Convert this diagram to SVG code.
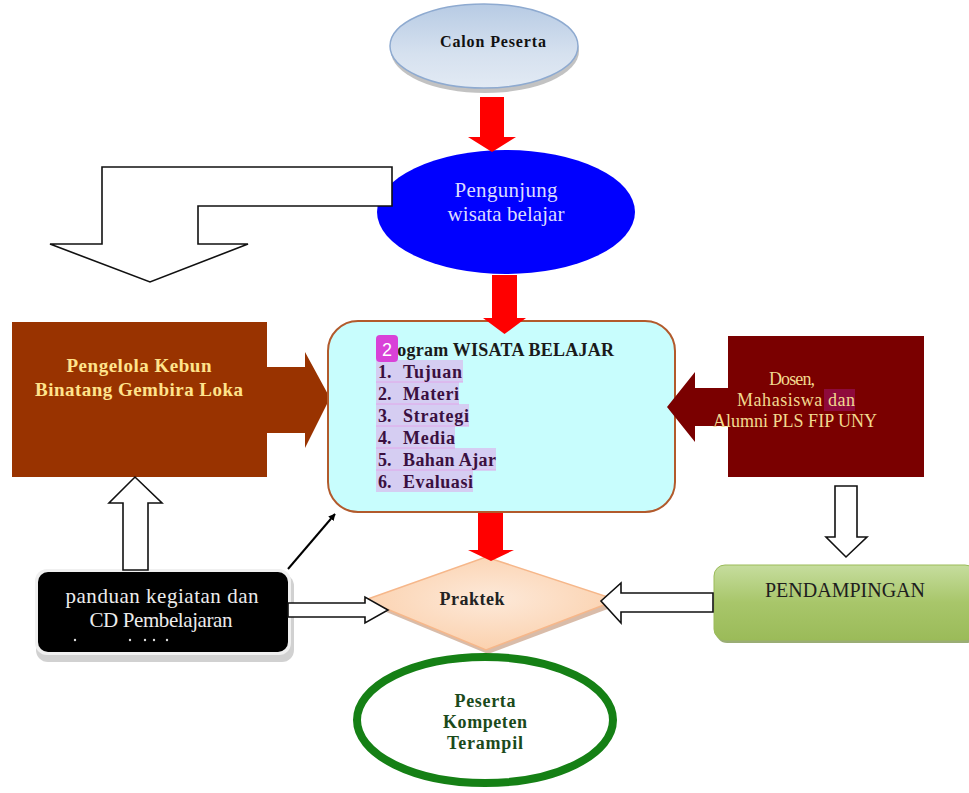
<svg xmlns="http://www.w3.org/2000/svg" width="969" height="793" viewBox="0 0 969 793">
<defs>
<linearGradient id="gCalon" x1="0" y1="0" x2="0" y2="1">
<stop offset="0" stop-color="#b7cbe4"/><stop offset="0.6" stop-color="#d6e1ef"/><stop offset="1" stop-color="#e2eaf4"/>
</linearGradient>
<linearGradient id="gGreen" x1="0" y1="0" x2="0" y2="1">
<stop offset="0" stop-color="#c6dd9e"/><stop offset="0.5" stop-color="#a8c66a"/><stop offset="1" stop-color="#9bbb59"/>
</linearGradient>
<radialGradient id="gPeach" cx="0.5" cy="0.45" r="0.6">
<stop offset="0" stop-color="#fde9d9"/><stop offset="1" stop-color="#fbcfaa"/>
</radialGradient>
<marker id="ah" viewBox="0 0 10 10" refX="9" refY="5" markerWidth="7" markerHeight="7" orient="auto" markerUnits="userSpaceOnUse">
<path d="M0,0 L10,5 L0,10 z" fill="#000"/>
</marker>
<style>
.serif{font-family:"Liberation Serif","Times New Roman",serif}
.b{font-weight:bold}
.hollow{fill:#fff;stroke:#111;stroke-width:1.6;stroke-linejoin:miter}
.red{fill:#ff0000}
.item{font-family:"Liberation Serif",serif;font-weight:bold;font-size:18px;fill:#3a1040}
.hl{fill:#d5cdf2}
.sep{stroke:#e2a6ea;stroke-width:1}
</style>
</defs>
<rect width="969" height="793" fill="#fff"/>

<g id="calon-peserta">
<ellipse cx="485" cy="51" rx="94" ry="42" fill="#9a9a9a" opacity="0.6"/>
<ellipse cx="484" cy="46" rx="94" ry="42" fill="url(#gCalon)" stroke="#8eaad0" stroke-width="1.5"/>
<text class="serif b" x="493" y="47" font-size="16" text-anchor="middle" fill="#111" textLength="106">Calon Peserta</text>
</g>

<g id="pengunjung">
<ellipse cx="506" cy="212" rx="129" ry="62" fill="#0000ff"/>
<text class="serif" x="506" y="197" font-size="21" text-anchor="middle" fill="#dcdcff" textLength="103">Pengunjung</text>
<text class="serif" x="506" y="221" font-size="21" text-anchor="middle" fill="#dcdcff" textLength="117">wisata belajar</text>
</g>

<g id="pengelola">
<rect x="12" y="322" width="255" height="155" fill="#993300"/>
<polygon points="266,367 305,367 305,352 330,398 305,448 305,433 266,433" fill="#993300"/>
<text class="serif b" x="139" y="372" font-size="19" text-anchor="middle" fill="#ffe38c" textLength="145">Pengelola Kebun</text>
<text class="serif b" x="139" y="396" font-size="19" text-anchor="middle" fill="#ffe38c" textLength="208">Binatang Gembira Loka</text>
</g>

<g id="program">
<rect x="328" y="321" width="347" height="191" rx="30" ry="30" fill="#c8fdfd" stroke="#b25a2c" stroke-width="2"/>
<rect class="hl" x="376" y="360" width="87" height="22"/>
<rect class="hl" x="376" y="382" width="83" height="22"/>
<rect class="hl" x="376" y="404" width="93" height="22"/>
<rect class="hl" x="376" y="426" width="79" height="22"/>
<rect class="hl" x="376" y="448" width="120" height="22"/>
<rect class="hl" x="376" y="470" width="97" height="22"/>
<line class="sep" x1="376" y1="382" x2="463" y2="382"/>
<line class="sep" x1="376" y1="404" x2="459" y2="404"/>
<line class="sep" x1="376" y1="426" x2="469" y2="426"/>
<line class="sep" x1="376" y1="448" x2="455" y2="448"/>
<line class="sep" x1="376" y1="470" x2="496" y2="470"/>
<text class="serif b" x="378" y="356" font-size="18" fill="#1a1a1a" textLength="236">Program WISATA BELAJAR</text>
<text class="item" x="378" y="378">1.</text><text class="item" x="403" y="378" textLength="59">Tujuan</text>
<text class="item" x="378" y="400">2.</text><text class="item" x="403" y="400" textLength="56">Materi</text>
<text class="item" x="378" y="422">3.</text><text class="item" x="403" y="422" textLength="66">Strategi</text>
<text class="item" x="378" y="444">4.</text><text class="item" x="403" y="444" textLength="52">Media</text>
<text class="item" x="378" y="466">5.</text><text class="item" x="403" y="466" textLength="93">Bahan Ajar</text>
<text class="item" x="378" y="488">6.</text><text class="item" x="403" y="488" textLength="70">Evaluasi</text>
<rect x="376" y="335" width="22" height="27" rx="4" fill="#d842d8"/>
<text x="387" y="356" font-family="Liberation Sans,Arial,sans-serif" font-size="18" text-anchor="middle" fill="#fff">2</text>
</g>

<g id="dosen">
<rect x="728" y="336" width="196" height="141" fill="#7a0000"/>
<polygon points="729,388 695,388 695,372 667,407 695,442 695,426 729,426" fill="#7a0000"/>
<rect x="824" y="389" width="31" height="22" fill="#8e0a3c"/>
<text class="serif" x="792" y="385" font-size="18" text-anchor="middle" fill="#f2d98f" textLength="46">Dosen,</text>
<text class="serif" x="796" y="406" font-size="18" text-anchor="middle" fill="#f2d98f" textLength="118">Mahasiswa dan</text>
<text class="serif" x="795" y="427" font-size="18" text-anchor="middle" fill="#f2d98f" textLength="164">Alumni PLS FIP UNY</text>
</g>

<g id="pendampingan">
<rect x="716" y="568" width="262" height="75" rx="11" fill="#6f8a3a" opacity="0.7"/>
<rect x="714" y="565" width="262" height="75" rx="11" fill="url(#gGreen)" stroke="#9bbb59" stroke-width="1"/>
<text class="serif" x="845" y="597" font-size="20" text-anchor="middle" fill="#1e1e1e" textLength="160">PENDAMPINGAN</text>
</g>

<g id="panduan">
<rect x="36" y="574" width="258" height="88" rx="12" fill="#bdbdbd" opacity="0.7"/>
<rect x="35" y="569" width="256" height="86" rx="12" fill="#f0f0f0"/>
<rect x="38" y="572" width="250" height="80" rx="10" fill="#000"/>
<text class="serif" x="162" y="603" font-size="21" text-anchor="middle" fill="#ececec" textLength="193">panduan kegiatan dan</text>
<text class="serif" x="161" y="627" font-size="21" text-anchor="middle" fill="#ececec" textLength="143">CD Pembelajaran</text>
<g fill="#ddd"><circle cx="75" cy="640" r="1.2"/><circle cx="130" cy="640" r="1.2"/><circle cx="145" cy="640" r="1.2"/><circle cx="154" cy="640" r="1.2"/><circle cx="167" cy="640" r="1.2"/></g>
</g>

<g id="praktek">
<polygon points="367,604 488,561 621,604 488,654" fill="#c09070" opacity="0.6"/>
<polygon points="365,600 486,557 617,600 486,650" fill="url(#gPeach)" stroke="#f6b78a" stroke-width="1.5"/>
<text class="serif b" x="472" y="605" font-size="18" text-anchor="middle" fill="#222" textLength="65">Praktek</text>
</g>

<g id="peserta-kompeten">
<ellipse cx="485" cy="720" rx="128" ry="63" fill="#fff" stroke="#158015" stroke-width="8"/>
<text class="serif b" x="485" y="707" font-size="18" text-anchor="middle" fill="#1b4a1b" textLength="61">Peserta</text>
<text class="serif b" x="485" y="728" font-size="18" text-anchor="middle" fill="#1b4a1b" textLength="84">Kompeten</text>
<text class="serif b" x="485" y="749" font-size="18" text-anchor="middle" fill="#1b4a1b" textLength="76">Terampil</text>
</g>

<g id="connectors">
<polygon class="red" points="480,97 504,97 504,137 516,137 492,152 468,137 480,137"/>
<polygon class="red" points="492,275 517,275 517,318 526,318 504.5,334 483,318 492,318"/>
<polygon class="red" points="478,513 503,513 503,550 514,550 491,561 468,550 478,550"/>
<polygon class="hollow" points="392,167 102,167 102,244 50,244 150,282 248,244 198,244 198,206 392,206"/>
<polygon class="hollow" points="835,486 857,486 857,537 867,537 846,557 826,537 835,537"/>
<polygon class="hollow" points="713,593 621,593 621,583 601,601 621,623 621,612 713,612"/>
<polygon class="hollow" points="288,603 365,603 365,597 388,610 365,623 365,617 288,617"/>
<polygon class="hollow" points="123,570 123,503 109,503 135,477 162,503 148,503 148,570"/>
<line x1="288" y1="569" x2="335" y2="514" stroke="#000" stroke-width="2" marker-end="url(#ah)"/>
</g>
</svg>
